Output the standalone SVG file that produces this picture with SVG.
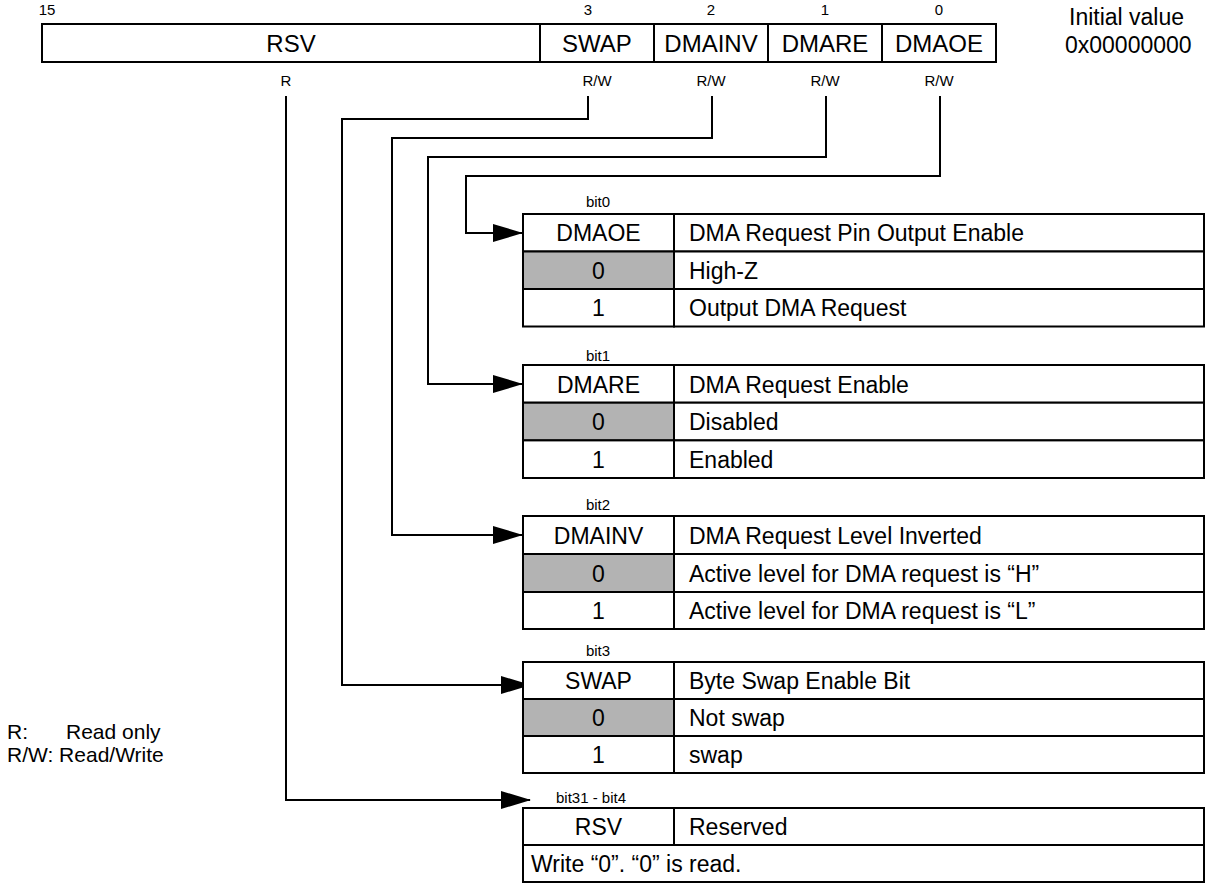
<svg xmlns="http://www.w3.org/2000/svg" width="1211" height="884" viewBox="0 0 1211 884">
<defs>
<style>
text{font-family:"Liberation Sans",Arial,sans-serif;fill:#000}
.cell{fill:#fff;stroke:#000;stroke-width:2}
.gray{fill:#b3b3b3;stroke:#000;stroke-width:2}
.ln{fill:none;stroke:#000;stroke-width:2}
.t{font-size:23px}
.r{font-size:24px}
.m{text-anchor:middle}
.s{font-size:15px}
.b{font-size:15px}
.lg{font-size:23px}
.lgd{font-size:21px}
</style>
<marker id="arr" markerWidth="30" markerHeight="18" refX="29" refY="9" orient="auto" markerUnits="userSpaceOnUse">
<path d="M0,0 L30,9 L0,18 Z" fill="#000"/>
</marker>
</defs>
<rect width="1211" height="884" fill="#fff"/>

<g id="register">
<rect class="cell" x="42" y="24" width="498" height="38"/>
<rect class="cell" x="540" y="24" width="114" height="38"/>
<rect class="cell" x="654" y="24" width="114" height="38"/>
<rect class="cell" x="768" y="24" width="114" height="38"/>
<rect class="cell" x="882" y="24" width="114" height="38"/>
<text class="s m" x="47" y="15">15</text>
<text class="s m" x="588" y="15">3</text>
<text class="s m" x="711" y="15">2</text>
<text class="s m" x="825" y="15">1</text>
<text class="s m" x="939" y="15">0</text>
<text class="r m" x="291" y="52">RSV</text>
<text class="r m" x="597" y="52">SWAP</text>
<text class="r m" x="711" y="52">DMAINV</text>
<text class="r m" x="825" y="52">DMARE</text>
<text class="r m" x="939" y="52">DMAOE</text>
<text class="s m" x="286" y="86">R</text>
<text class="s m" x="597" y="86">R/W</text>
<text class="s m" x="711" y="86">R/W</text>
<text class="s m" x="825" y="86">R/W</text>
<text class="s m" x="939" y="86">R/W</text>
</g>

<g id="initial">
<text class="lg" x="1069" y="25">Initial value</text>
<text class="lg" x="1065" y="53">0x00000000</text>
</g>

<g id="legend">
<text class="lgd" x="7" y="739">R:</text>
<text class="lgd" x="66" y="739">Read only</text>
<text class="lgd" x="7" y="762">R/W: Read/Write</text>
</g>

<g id="connectors">
<polyline class="ln" points="940,96 940,176 466,176 466,233 522,233" marker-end="url(#arr)"/>
<polyline class="ln" points="826,96 826,157 428,157 428,384 522,384" marker-end="url(#arr)"/>
<polyline class="ln" points="712,96 712,138 392,138 392,535 522,535" marker-end="url(#arr)"/>
<polyline class="ln" points="588,96 588,119 342,119 342,685 530,685" marker-end="url(#arr)"/>
<polyline class="ln" points="286,96 286,800 530,800" marker-end="url(#arr)"/>
</g>

<g id="bit0">
<text class="b m" x="598" y="207">bit0</text>
<rect class="cell" x="523" y="214" width="151" height="37.5"/>
<rect class="cell" x="674" y="214" width="530" height="37.5"/>
<rect class="gray" x="523" y="251.5" width="151" height="37.5"/>
<rect class="cell" x="674" y="251.5" width="530" height="37.5"/>
<rect class="cell" x="523" y="289" width="151" height="37.5"/>
<rect class="cell" x="674" y="289" width="530" height="37.5"/>
<text class="t m" x="598.5" y="241">DMAOE</text>
<text class="t" x="689" y="241">DMA Request Pin Output Enable</text>
<text class="t m" x="598.5" y="278.5">0</text>
<text class="t" x="689" y="278.5">High-Z</text>
<text class="t m" x="598.5" y="316">1</text>
<text class="t" x="689" y="316">Output DMA Request</text>
</g>

<g id="bit1">
<text class="b m" x="598" y="361">bit1</text>
<rect class="cell" x="523" y="365" width="151" height="37.7"/>
<rect class="cell" x="674" y="365" width="530" height="37.7"/>
<rect class="gray" x="523" y="402.7" width="151" height="37.7"/>
<rect class="cell" x="674" y="402.7" width="530" height="37.7"/>
<rect class="cell" x="523" y="440.4" width="151" height="37.6"/>
<rect class="cell" x="674" y="440.4" width="530" height="37.6"/>
<text class="t m" x="598.5" y="392.5">DMARE</text>
<text class="t" x="689" y="392.5">DMA Request Enable</text>
<text class="t m" x="598.5" y="430">0</text>
<text class="t" x="689" y="430">Disabled</text>
<text class="t m" x="598.5" y="467.5">1</text>
<text class="t" x="689" y="467.5">Enabled</text>
</g>

<g id="bit2">
<text class="b m" x="598" y="510">bit2</text>
<rect class="cell" x="523" y="516" width="151" height="38"/>
<rect class="cell" x="674" y="516" width="530" height="38"/>
<rect class="gray" x="523" y="554" width="151" height="38"/>
<rect class="cell" x="674" y="554" width="530" height="38"/>
<rect class="cell" x="523" y="592" width="151" height="37"/>
<rect class="cell" x="674" y="592" width="530" height="37"/>
<text class="t m" x="598.5" y="543.5">DMAINV</text>
<text class="t" x="689" y="543.5">DMA Request Level Inverted</text>
<text class="t m" x="598.5" y="581.5">0</text>
<text class="t" x="689" y="581.5">Active level for DMA request is “H”</text>
<text class="t m" x="598.5" y="619">1</text>
<text class="t" x="689" y="619">Active level for DMA request is “L”</text>
</g>

<g id="bit3">
<text class="b m" x="598" y="656">bit3</text>
<rect class="cell" x="523" y="662" width="151" height="37"/>
<rect class="cell" x="674" y="662" width="530" height="37"/>
<rect class="gray" x="523" y="699" width="151" height="37"/>
<rect class="cell" x="674" y="699" width="530" height="37"/>
<rect class="cell" x="523" y="736" width="151" height="37"/>
<rect class="cell" x="674" y="736" width="530" height="37"/>
<text class="t m" x="598.5" y="689">SWAP</text>
<text class="t" x="689" y="689">Byte Swap Enable Bit</text>
<text class="t m" x="598.5" y="726">0</text>
<text class="t" x="689" y="726">Not swap</text>
<text class="t m" x="598.5" y="763">1</text>
<text class="t" x="689" y="763">swap</text>
</g>

<g id="rsv">
<text class="b" x="556" y="803">bit31 - bit4</text>
<rect class="cell" x="523" y="808" width="151" height="37"/>
<rect class="cell" x="674" y="808" width="530" height="37"/>
<rect class="cell" x="523" y="845" width="681" height="37"/>
<text class="t m" x="598.5" y="835">RSV</text>
<text class="t" x="689" y="835">Reserved</text>
<text class="t" x="531" y="872">Write “0”. “0” is read.</text>
</g>
</svg>
